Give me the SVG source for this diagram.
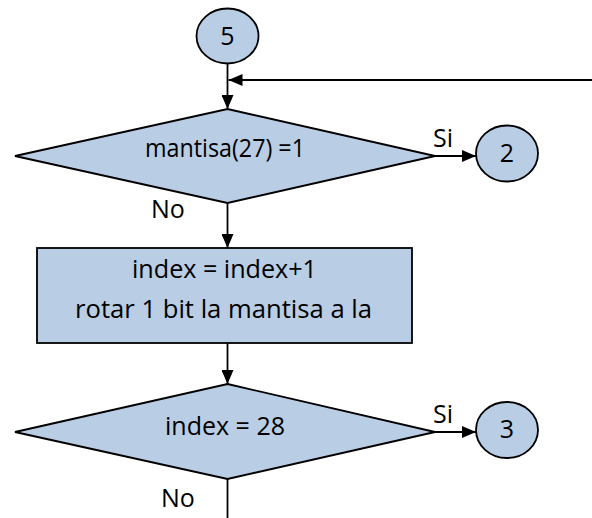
<svg xmlns="http://www.w3.org/2000/svg" width="592" height="518" viewBox="0 0 592 518">
  <style>
    .shape { fill: #B9CDE5; stroke: #000; stroke-width: 1.8; }
    .line { fill: none; stroke: #000; stroke-width: 1.8; }
    text { font-family: "Open Sans", Lato, sans-serif; font-size: 25px; fill: #000; }
    .c { text-anchor: middle; }
  </style>
  <defs>
    <marker id="arrow" markerWidth="14" markerHeight="12" refX="14" refY="6" orient="auto" markerUnits="userSpaceOnUse">
      <path d="M0,0 L14,6 L0,12 Z" fill="#000"/>
    </marker>
  </defs>

  <g id="connectors">
    <line class="line" x1="227.5" y1="64" x2="227.5" y2="109" marker-end="url(#arrow)"/>
    <line class="line" x1="592" y1="80" x2="228.5" y2="80" marker-end="url(#arrow)"/>
    <line class="line" x1="435" y1="156" x2="476" y2="156" marker-end="url(#arrow)"/>
    <line class="line" x1="227.5" y1="203" x2="227.5" y2="248" marker-end="url(#arrow)"/>
    <line class="line" x1="227.5" y1="343" x2="227.5" y2="384" marker-end="url(#arrow)"/>
    <line class="line" x1="435" y1="432" x2="476" y2="432" marker-end="url(#arrow)"/>
    <line class="line" x1="227.5" y1="479" x2="227.5" y2="518"/>
    <text x="433" y="147">Si</text>
    <text x="151" y="218">No</text>
    <text x="433" y="423">Si</text>
    <text x="161" y="507">No</text>
  </g>

  <g id="node-5">
    <ellipse class="shape" cx="227.5" cy="36" rx="31" ry="27.5"/>
    <text class="c" x="227.5" y="45">5</text>
  </g>

  <g id="node-decision-mantisa">
    <polygon class="shape" points="227.5,109 435,156 227.5,203 15,156"/>
    <text class="c" x="225" y="157" textLength="160" lengthAdjust="spacingAndGlyphs">mantisa(27) =1</text>
  </g>

  <g id="node-2">
    <ellipse class="shape" cx="507" cy="153.5" rx="31" ry="28"/>
    <text class="c" x="507" y="162">2</text>
  </g>

  <g id="node-process">
    <rect class="shape" x="37" y="248" width="375" height="95"/>
    <text class="c" x="224.5" y="278" textLength="185" lengthAdjust="spacingAndGlyphs">index = index+1</text>
    <text class="c" x="223.5" y="318" textLength="297" lengthAdjust="spacingAndGlyphs">rotar 1 bit la mantisa a la</text>
  </g>

  <g id="node-decision-index">
    <polygon class="shape" points="227.5,384 435,432 227.5,479 15,432"/>
    <text class="c" x="225" y="435" textLength="120" lengthAdjust="spacingAndGlyphs">index = 28</text>
  </g>

  <g id="node-3">
    <ellipse class="shape" cx="507" cy="430" rx="31" ry="28"/>
    <text class="c" x="507" y="438">3</text>
  </g>
</svg>
